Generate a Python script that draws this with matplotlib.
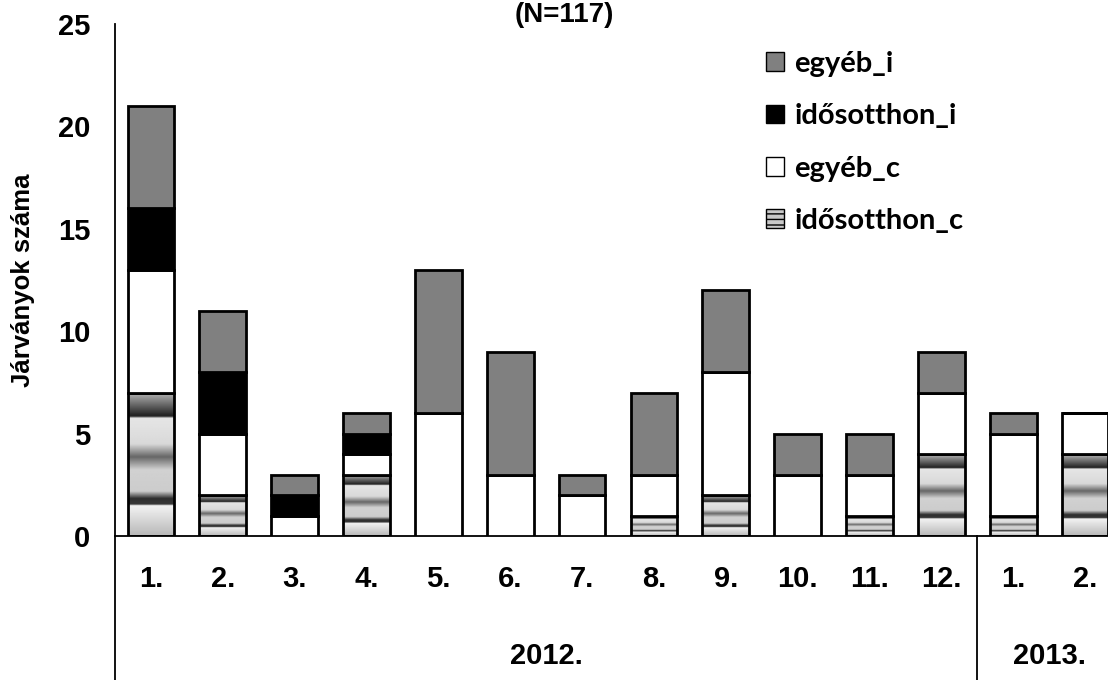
import matplotlib
matplotlib.use("Agg")
import matplotlib.pyplot as plt
import matplotlib.transforms as mtransforms
from matplotlib.patches import Patch
import numpy as np

months = ["1.", "2.", "3.", "4.", "5.", "6.", "7.", "8.", "9.", "10.", "11.", "12.", "1.", "2."]
years = ["2012.", "2013."]
year_spans = [(0, 11), (12, 13)]

idosotthon_c = [7, 2, 0, 3, 0, 0, 0, 1, 2, 0, 1, 4, 1, 4]
egyeb_c = [6, 3, 1, 1, 6, 3, 2, 2, 6, 3, 2, 3, 4, 2]
idosotthon_i = [3, 3, 1, 1, 0, 0, 0, 0, 0, 0, 0, 0, 0, 0]
egyeb_i = [5, 3, 1, 1, 7, 6, 1, 4, 4, 2, 2, 2, 1, 0]

TXT = "Liberation Sans"
LEG = "Lato"

# stretched gradient texture used for the idősotthon_c segments
tex_t = [0.0, 0.21, 0.22, 0.26, 0.31, 0.46, 0.55, 0.64, 0.82, 0.835, 1.0]
tex_v = [0.72, 0.95, 0.22, 0.18, 0.8, 0.82, 0.4, 0.85, 0.9, 0.12, 0.72]
tex = np.interp(np.linspace(1, 0, 200), tex_t, tex_v).reshape(-1, 1)

W, H = 1108, 680
fig = plt.figure(figsize=(W / 100, H / 100), dpi=100)
ax = fig.add_axes([115 / W, 1 - 536 / H, (1121 - 115) / W, (536 - 24) / H])

x = np.arange(len(months))
bw = 0.65
lw = 2.0

c = np.array(idosotthon_c)
ec = np.array(egyeb_c)
ii = np.array(idosotthon_i)
ei = np.array(egyeb_i)

for xi, h in zip(x, c):
    if h > 0:
        ax.imshow(tex, cmap="gray", vmin=0, vmax=1, aspect="auto", interpolation="bilinear",
                  extent=[xi - bw / 2, xi + bw / 2, 0, h], zorder=2)
ax.bar(x, c, bw, facecolor="none", edgecolor="black", linewidth=lw, zorder=3)
ax.bar(x, ec, bw, bottom=c, color="white", edgecolor="black", linewidth=lw, zorder=3)
ax.bar(x, ii, bw, bottom=c + ec, color="black", edgecolor="black", linewidth=lw, zorder=3)
ax.bar(x, ei, bw, bottom=c + ec + ii, color="#808080", edgecolor="black", linewidth=lw, zorder=3)

ax.set_xlim(-0.5, len(months) - 0.5)
ax.set_ylim(0, 25)
ax.set_yticks([0, 5, 10, 15, 20, 25])
ax.tick_params(axis="y", length=0, pad=18)
ax.tick_params(axis="x", length=0, pad=21)
ax.set_xticks(x)
ax.set_xticklabels(months)
for lab in ax.get_xticklabels() + ax.get_yticklabels():
    lab.set_fontfamily(TXT)
    lab.set_fontweight("bold")
    lab.set_fontsize(21)

for s in ["top", "right"]:
    ax.spines[s].set_visible(False)
ax.spines["left"].set_linewidth(1.3)
ax.spines["bottom"].set_linewidth(1.3)

ax.set_ylabel("Járványok száma", fontfamily=TXT, fontweight="bold", fontsize=18.5, labelpad=16)

# second category level (years) and separators
trans = mtransforms.blended_transform_factory(ax.transData, ax.transAxes)
for yr, (a, b) in zip(years, year_spans):
    ax.text((a + b) / 2, -0.235, yr, transform=trans, ha="center", va="center",
            fontfamily=TXT, fontweight="bold", fontsize=21)
for xs in [-0.5, 11.5]:
    ax.plot([xs, xs], [0, -0.3], transform=trans, color="black", linewidth=1.3, clip_on=False)

fig.text(564 / W, 0.997, "(N=117)", ha="center", va="top", fontfamily=TXT,
         fontweight="bold", fontsize=20)

handles = [
    Patch(facecolor="#808080", edgecolor="black", linewidth=1),
    Patch(facecolor="black", edgecolor="black", linewidth=1),
    Patch(facecolor="white", edgecolor="black", linewidth=1),
    Patch(facecolor="#c8c8c8", edgecolor="black", hatch="---", linewidth=1),
]
labels = ["egyéb_i", "idősotthon_i", "egyéb_c", "idősotthon_c"]
fig.legend(handles, labels, loc="upper left", bbox_to_anchor=(766 / W, 1 - 51 / H),
           frameon=False, prop={"family": LEG, "weight": "bold", "size": 21},
           handlelength=0.62, handleheight=0.62, handletextpad=0.35, labelspacing=0.9,
           borderaxespad=0, borderpad=0)

fig.savefig("out.png", dpi=100)
